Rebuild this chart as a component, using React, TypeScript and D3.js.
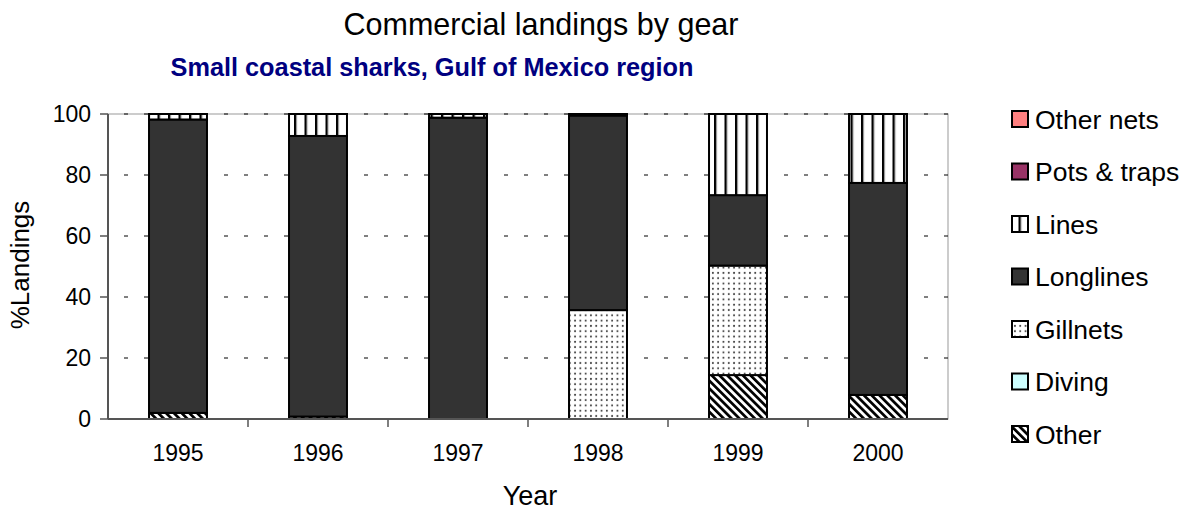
import React from "react";
import * as d3 from "d3";

const years = ["1995", "1996", "1997", "1998", "1999", "2000"];
// stack order bottom -> top
const seriesNames = ["Other", "Diving", "Gillnets", "Longlines", "Lines", "Pots & traps", "Other nets"];
const other = [2.0, 0.8, 0, 0, 14.4, 7.9];
const diving = [0, 0, 0, 0, 0, 0];
const gillnets = [0, 0, 0, 35.7, 35.9, 0];
const longlines = [96.2, 92.0, 98.8, 63.8, 23.1, 69.5];
const lines = [1.8, 7.2, 1.2, 0.5, 26.6, 22.6];
const potsTraps = [0, 0, 0, 0, 0, 0];
const otherNets = [0, 0, 0, 0, 0, 0];
const yTicks = [0, 20, 40, 60, 80, 100];
const legendOrder = ["Other nets", "Pots & traps", "Lines", "Longlines", "Gillnets", "Diving", "Other"];

const seriesValues = [other, diving, gillnets, longlines, lines, potsTraps, otherNets];
const fills: Record<string, string> = {
  "Other": "url(#pOther)",
  "Diving": "#CCFFFF",
  "Gillnets": "url(#pGill)",
  "Longlines": "#333333",
  "Lines": "url(#pLines)",
  "Pots & traps": "#993366",
  "Other nets": "#FF8080",
};

const FONT = "Liberation Sans, Arial, sans-serif";

export default function App() {
  const left = 108, right = 948, top = 114, bottom = 419;
  const x = d3.scaleBand<string>().domain(years).range([left, right]).paddingInner(0.586).paddingOuter(0.293);
  const y = d3.scaleLinear().domain([0, 100]).range([bottom, top]);

  const table = years.map((yr, i) => {
    const row: Record<string, number | string> = { year: yr };
    seriesNames.forEach((s, k) => (row[s] = seriesValues[k][i]));
    return row;
  });
  const stacked = d3.stack<any>().keys(seriesNames)(table);

  const band = (right - left) / years.length;
  const legendY = d3.scalePoint<string>().domain(legendOrder).range([119, 434]);

  return (
    <svg width={1186} height={510} style={{ position: "absolute", left: 0, top: 0, background: "#fff" }} fontFamily={FONT}>
      <defs>
        <pattern id="pLines" patternUnits="userSpaceOnUse" width={10.5} height={10}>
          <rect width={10.5} height={10} fill="#fff" />
          <rect x={0} width={2} height={10} fill="#000" />
          <rect x={2} width={1} height={10} fill="#888" />
        </pattern>
        <pattern id="pGill" patternUnits="userSpaceOnUse" width={5.3} height={5.3}>
          <rect width={5.3} height={5.3} fill="#fff" />
          <circle cx={2.65} cy={2.65} r={1} fill="#444" />
        </pattern>
        <pattern id="pOther" patternUnits="userSpaceOnUse" width={5.5} height={5.5} patternTransform="rotate(-45)">
          <rect width={5.5} height={5.5} fill="#fff" />
          <rect x={0} width={2.7} height={5.5} fill="#000" />
        </pattern>
      </defs>

      {/* titles */}
      <text x={541} y={35} textAnchor="middle" fontSize={30.5}>Commercial landings by gear</text>
      <text x={432} y={76} textAnchor="middle" fontSize={25.3} fontWeight="bold" fill="#000080">Small coastal sharks, Gulf of Mexico region</text>

      {/* plot border */}
      <rect x={left} y={top} width={right - left} height={bottom - top} fill="none" stroke="#999" strokeWidth={1} />

      {/* gridlines */}
      {yTicks.filter((t) => t > 0).map((t) => (
        <line key={t} x1={left} x2={right} y1={y(t)} y2={y(t)} stroke="#000" strokeWidth={1} strokeDasharray="4,16" strokeDashoffset={-16} />
      ))}

      {/* bars */}
      {stacked.map((layer) => (
        <g key={layer.key}>
          {layer.map((d, i) => {
            const h = y(d[0]) - y(d[1]);
            if (h <= 0) return null;
            return (
              <rect key={i} x={x(years[i])} y={y(d[1])} width={x.bandwidth()} height={h}
                fill={fills[layer.key as string]} stroke="#000" strokeWidth={2} />
            );
          })}
        </g>
      ))}

      {/* axes */}
      <line x1={left} x2={left} y1={top} y2={bottom} stroke="#555" strokeWidth={2} />
      <line x1={left} x2={right} y1={bottom} y2={bottom} stroke="#555" strokeWidth={2} />
      {yTicks.map((t) => (
        <g key={t}>
          <line x1={left - 8} x2={left} y1={y(t)} y2={y(t)} stroke="#555" strokeWidth={1.5} />
          <text x={91} y={y(t)} dy="0.35em" textAnchor="end" fontSize={23}>{t}</text>
        </g>
      ))}
      {years.map((yr, i) => (
        <g key={yr}>
          {i > 0 && <line x1={left + band * i} x2={left + band * i} y1={bottom} y2={bottom + 8} stroke="#555" strokeWidth={1.5} />}
          <text x={(x(yr) as number) + x.bandwidth() / 2} y={461} textAnchor="middle" fontSize={23}>{yr}</text>
        </g>
      ))}
      <text x={530} y={505} textAnchor="middle" fontSize={27}>Year</text>
      <text transform="translate(29,265) rotate(-90)" textAnchor="middle" fontSize={26}>%Landings</text>

      {/* legend */}
      {legendOrder.map((s) => {
        const cy = legendY(s) as number;
        return (
          <g key={s}>
            <rect x={1012} y={cy - 8} width={16} height={16} fill={fills[s]} stroke="#000" strokeWidth={2} />
            <text x={1035} y={cy} dy="0.36em" fontSize={26.5}>{s}</text>
          </g>
        );
      })}
    </svg>
  );
}
